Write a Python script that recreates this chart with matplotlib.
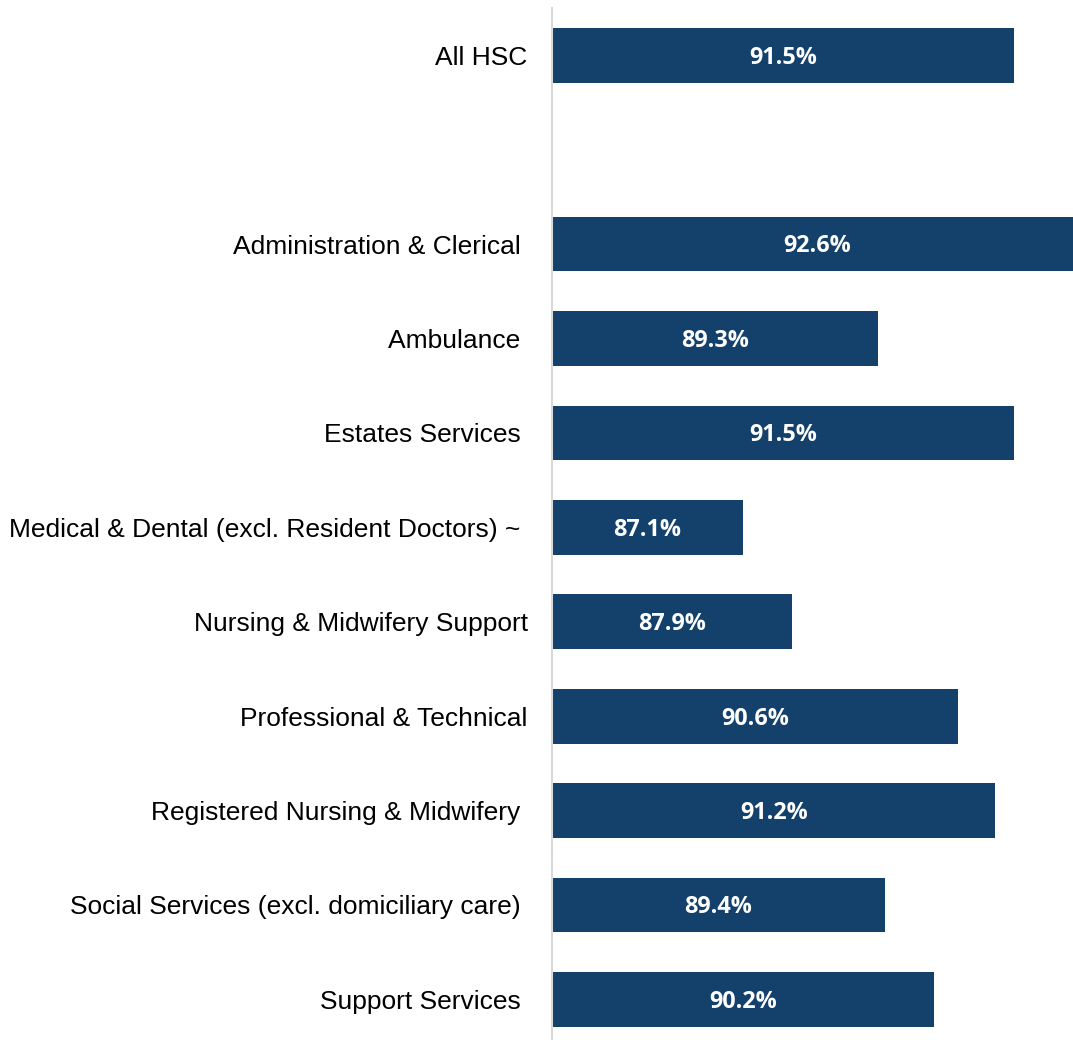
import matplotlib
matplotlib.use("Agg")
import matplotlib.pyplot as plt

# Categories from top to bottom; empty string is the spacer slot
categories = ["All HSC", "",
              "Administration & Clerical ", "Ambulance ", "Estates Services ",
              "Medical & Dental (excl. Resident Doctors) ~ ",
              "Nursing & Midwifery Support", "Professional & Technical",
              "Registered Nursing & Midwifery ",
              "Social Services (excl. domiciliary care) ", "Support Services "]
values = [91.5, None, 92.6, 89.3, 91.5, 87.1, 87.9, 90.6, 91.2, 89.4, 90.2]
value_labels = ["91.5%", "", "92.6%", "89.3%", "91.5%", "87.1%",
                "87.9%", "90.6%", "91.2%", "89.4%", "90.2%"]

BAR_COLOR = "#14416B"

fig = plt.figure(figsize=(10.73, 10.40), dpi=100)
ax = fig.add_axes([552 / 1073, 0, 521 / 1073, 1032 / 1040])

x_min = 84.0
for i, (v, lab) in enumerate(zip(values, value_labels)):
    if v is None:
        continue
    ax.barh(i, v - x_min, left=x_min, height=0.58, color=BAR_COLOR)
    # label centred on the full bar (the longest bar runs off the edge)
    ax.text((x_min + v) / 2, i + 0.025, lab, ha="center", va="center",
            color="white", fontsize=16.8, fontweight="bold",
            family="Open Sans")

ax.set_xlim(x_min, 92.46)
ax.set_ylim(10.43, -0.5)
ax.set_yticks(range(len(categories)))
ax.set_yticklabels(categories, fontsize=19, family="Liberation Sans")
ax.tick_params(axis="y", length=0, pad=17.5)
ax.set_xticks([])
for s in ["top", "right", "bottom"]:
    ax.spines[s].set_visible(False)
ax.spines["left"].set_color("#D9D9D9")
ax.spines["left"].set_linewidth(1.5)

fig.savefig("out.png", dpi=100)
